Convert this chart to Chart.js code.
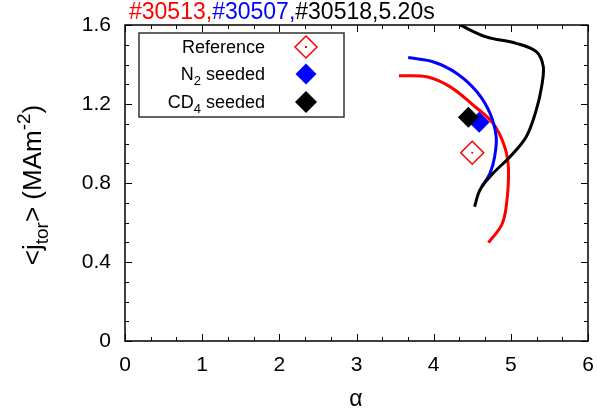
<!DOCTYPE html>
<html>
<head>
<meta charset="utf-8">
<script src="https://cdn.jsdelivr.net/npm/chart.js@4.4.1/dist/chart.umd.min.js"></script>
<style>
  html, body { margin: 0; padding: 0; background: #fff; }
  #wrap { width: 597px; height: 414px; position: relative; }
</style>
</head>
<body>
<div id="wrap"><canvas id="c" width="597" height="414"></canvas></div>
<script>
(function () {
  "use strict";

  // curves (alpha, <j_tor>)
  var redX = [3.55, 3.91, 4.21, 4.51, 4.77, 4.92, 4.97, 4.94, 4.88, 4.71];
  var redY = [1.343, 1.338, 1.288, 1.195, 1.102, 0.984, 0.866, 0.68, 0.587, 0.498];
  var blueX = [3.67, 3.99, 4.30, 4.56, 4.73, 4.81, 4.79, 4.73, 4.62];
  var blueY = [1.435, 1.414, 1.355, 1.262, 1.153, 1.034, 0.933, 0.849, 0.78];
  var blackX = [4.34, 4.68, 5.07, 5.33, 5.42, 5.40, 5.33, 5.20, 4.99, 4.77, 4.60, 4.53];
  var blackY = [1.60, 1.54, 1.507, 1.465, 1.39, 1.29, 1.17, 1.034, 0.933, 0.849, 0.765, 0.68];

  // single points
  var refX = [4.50], refY = [0.953];
  var n2X = [4.59], n2Y = [1.107];
  var cd4X = [4.45], cd4Y = [1.133];

  var xTicks = [0, 1, 2, 3, 4, 5, 6];
  var yTicks = [0, 0.4, 0.8, 1.2, 1.6];

  var FONT = "'Liberation Sans', Arial, sans-serif";
  var RED = "#ff0000", BLUE = "#0000ff", BLACK = "#000000";

  function pts(xs, ys) {
    return xs.map(function (x, i) { return { x: x, y: ys[i] }; });
  }

  function drawRich(ctx, segs, x, y, size, align) {
    var small = Math.round(size * 0.72);
    var w = 0;
    segs.forEach(function (s) {
      ctx.font = (s.sub || s.sup ? small : size) + "px " + FONT;
      s.w = ctx.measureText(s.t).width;
      w += s.w;
    });
    var cx = align === "right" ? x - w : align === "center" ? x - w / 2 : x;
    ctx.textAlign = "left";
    ctx.textBaseline = "alphabetic";
    segs.forEach(function (s) {
      ctx.font = (s.sub || s.sup ? small : size) + "px " + FONT;
      ctx.fillStyle = s.c || BLACK;
      var dy = s.sub ? size * 0.25 : s.sup ? -size * 0.42 : 0;
      ctx.fillText(s.t, cx, y + dy);
      cx += s.w;
    });
  }

  function diamond(ctx, x, y, r, fill, stroke) {
    ctx.beginPath();
    ctx.moveTo(x, y - r);
    ctx.lineTo(x + r, y);
    ctx.lineTo(x, y + r);
    ctx.lineTo(x - r, y);
    ctx.closePath();
    if (fill) { ctx.fillStyle = fill; ctx.fill(); }
    if (stroke) { ctx.strokeStyle = stroke; ctx.lineWidth = 1.5; ctx.stroke(); }
  }

  var decor = {
    id: "decor",
    afterDatasetsDraw: function (chart) {
      var ctx = chart.ctx, a = chart.chartArea;
      var xs = chart.scales.x, ys = chart.scales.y;
      ctx.save();
      // frame
      ctx.strokeStyle = BLACK;
      ctx.lineWidth = 1.5;
      ctx.strokeRect(a.left, a.top, a.right - a.left, a.bottom - a.top);
      // inward ticks, all four sides
      ctx.lineWidth = 1;
      ctx.beginPath();
      var i, v, p, len;
      for (i = 0; i <= 18; i++) {
        v = i / 3;
        p = Math.round(xs.getPixelForValue(v)) + 0.5;
        len = i % 3 === 0 ? 7 : 4;
        ctx.moveTo(p, a.bottom); ctx.lineTo(p, a.bottom - len);
        ctx.moveTo(p, a.top); ctx.lineTo(p, a.top + len);
      }
      for (i = 0; i <= 16; i++) {
        v = i / 10;
        p = Math.round(ys.getPixelForValue(v)) + 0.5;
        len = i % 4 === 0 ? 7 : 4;
        ctx.moveTo(a.left, p); ctx.lineTo(a.left + len, p);
        ctx.moveTo(a.right, p); ctx.lineTo(a.right - len, p);
      }
      ctx.stroke();

      // legend box
      ctx.fillStyle = "#fff";
      ctx.fillRect(139, 33, 205, 84);
      ctx.strokeStyle = "#333";
      ctx.lineWidth = 1.5;
      ctx.strokeRect(139, 33, 205, 84);
      drawRich(ctx, [{ t: "Reference" }], 265, 53, 18, "right");
      drawRich(ctx, [{ t: "N" }, { t: "2", sub: true }, { t: " seeded" }], 265, 80, 18, "right");
      drawRich(ctx, [{ t: "CD" }, { t: "4", sub: true }, { t: " seeded" }], 265, 108, 18, "right");
      diamond(ctx, 306, 47, 11, null, RED);
      ctx.fillStyle = RED;
      ctx.fillRect(305, 46, 2, 2);
      diamond(ctx, 306, 74, 10.5, BLUE, null);
      diamond(ctx, 306, 102, 11, BLACK, null);

      // title
      drawRich(ctx, [
        { t: "#30513,", c: RED },
        { t: "#30507,", c: BLUE },
        { t: "#30518,5.20s", c: BLACK }
      ], 129, 19, 23, "left");

      // axis titles
      drawRich(ctx, [{ t: "\u03b1" }], 356, 406, 23, "center");
      ctx.translate(41, 185);
      ctx.rotate(-Math.PI / 2);
      drawRich(ctx, [
        { t: "<j" }, { t: "tor", sub: true }, { t: "> (MAm" }, { t: "-2", sup: true }, { t: ")" }
      ], 0, 0, 26, "center");
      ctx.restore();
    }
  };

  var lineBase = { showLine: true, pointRadius: 0, borderWidth: 3, tension: 0.35, fill: false };

  new Chart(document.getElementById("c").getContext("2d"), {
    type: "scatter",
    data: {
      datasets: [
        { label: "CD4 seeded", data: pts(cd4X, cd4Y), pointStyle: "rectRot", pointRadius: 10.5,
          backgroundColor: BLACK, borderColor: BLACK, borderWidth: 0 },
        { label: "N2 seeded", data: pts(n2X, n2Y), pointStyle: "rectRot", pointRadius: 10.5,
          backgroundColor: BLUE, borderColor: BLUE, borderWidth: 0 },
        { label: "Reference dot", data: pts(refX, refY), pointStyle: "circle", pointRadius: 1,
          backgroundColor: RED, borderColor: RED, borderWidth: 0 },
        { label: "Reference", data: pts(refX, refY), pointStyle: "rectRot", pointRadius: 11.5,
          backgroundColor: "rgba(0,0,0,0)", borderColor: RED, borderWidth: 1.5 },
        Object.assign({ label: "#30518", data: pts(blackX, blackY), borderColor: BLACK }, lineBase),
        Object.assign({ label: "#30507", data: pts(blueX, blueY), borderColor: BLUE }, lineBase),
        Object.assign({ label: "#30513", data: pts(redX, redY), borderColor: RED }, lineBase)
      ]
    },
    options: {
      responsive: false,
      animation: false,
      layout: { autoPadding: false, padding: { top: 25, right: 0, left: 0, bottom: 0 } },
      plugins: { legend: { display: false }, tooltip: { enabled: false }, title: { display: false } },
      scales: {
        x: {
          type: "linear", min: 0, max: 6,
          afterFit: function (s) { s.height = 73; s.paddingRight = 9; s.paddingLeft = 0; },
          afterBuildTicks: function (s) { s.ticks = xTicks.map(function (v) { return { value: v }; }); },
          grid: { display: false, drawTicks: false },
          border: { display: false },
          ticks: { color: BLACK, font: { family: FONT, size: 21 }, padding: 12, maxRotation: 0 }
        },
        y: {
          type: "linear", min: 0, max: 1.6,
          afterFit: function (s) { s.width = 125; s.paddingTop = 0; s.paddingBottom = 0; },
          afterBuildTicks: function (s) { s.ticks = yTicks.map(function (v) { return { value: v }; }); },
          grid: { display: false, drawTicks: false },
          border: { display: false },
          ticks: { color: BLACK, font: { family: FONT, size: 21 }, padding: 14 }
        }
      }
    },
    plugins: [decor]
  });
})();
</script>
</body>
</html>
